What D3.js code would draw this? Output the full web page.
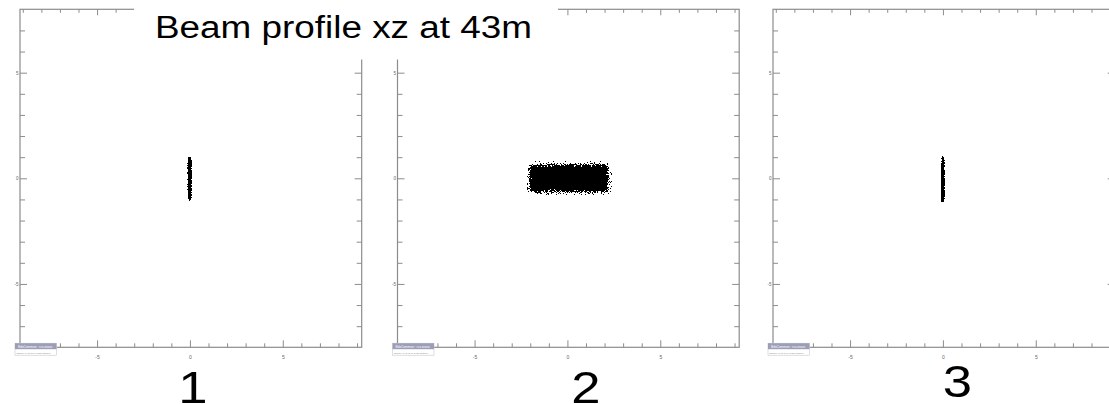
<!DOCTYPE html>
<html>
<head>
<meta charset="utf-8">
<script src="https://cdn.jsdelivr.net/npm/d3@7"></script>
<style>
  html, body { margin: 0; padding: 0; background: #fff; }
  svg { display: block; font-family: "Liberation Sans", Arial, sans-serif; }
</style>
</head>
<body>
<svg id="chart" width="1109" height="404"></svg>
<script>
// ---- data -------------------------------------------------------------
const panelLabels = ["1", "2", "3"];
const titleText = "Beam profile xz at 43m";
const xDomain = [-9.15, 9.25];
const yDomain = [-8, 8];
const majorTicks = [-5, 0, 5];
const minorTicksX = [-9, -8, -7, -6, -4, -3, -2, -1, 1, 2, 3, 4, 6, 7, 8, 9];
const minorTicksY = [-7, -6, -4, -3, -2, -1, 1, 2, 3, 4, 6, 7];

// beam outline per panel: rows of [z, xMin, xMax]
const beamRows1 = [[1.0, -0.05, 0.05], [0.85, -0.11, 0.09], [-0.9, -0.11, 0.09], [-1.05, -0.06, 0.05]];
const beamRows2 = [[0.66, -1.95, 2.12], [0.56, -2.06, 2.22], [-0.55, -2.06, 2.24], [-0.66, -1.95, 2.08]];
const beamRows3 = [[1.07, -0.03, 0.03], [0.8, -0.08, 0.07], [0.0, -0.1, 0.09], [-0.95, -0.1, 0.09], [-1.12, -0.06, 0.05]];
const beamDensity = [1.0, 0.68, 1.0];
const beamSpread = [0.025, 0.1, 0.025];

const legendHead = "BdsCommon : rcs.erase";
const legendBody = "sampler xz at 43 m, beam particles";

// ---- layout -----------------------------------------------------------
const panelLeft = [20, 397.5, 773];
const plotW = 341.7, plotTop = 9.3, plotBottom = 347.3;
const axisColor = "#8c8c8c";
const labelColor = "#666";

const svg = d3.select("#chart");
const defs = svg.append("defs");
const beams = [beamRows1, beamRows2, beamRows3];

panelLabels.forEach((label, i) => {
  const left = panelLeft[i];
  const x = d3.scaleLinear().domain(xDomain).range([left, left + plotW]);
  const y = d3.scaleLinear().domain(yDomain).range([plotBottom, plotTop]);
  const g = svg.append("g").attr("class", "panel");

  // grain filter: blurred beam footprint thresholded against noise
  const blur = (x(beamSpread[i]) - x(0));
  const f = defs.append("filter")
    .attr("id", "grain" + i)
    .attr("filterUnits", "userSpaceOnUse")
    .attr("x", left).attr("y", plotTop).attr("width", plotW).attr("height", plotBottom - plotTop);
  f.append("feGaussianBlur").attr("in", "SourceAlpha").attr("stdDeviation", blur).attr("result", "b0");
  const bt = f.append("feComponentTransfer").attr("in", "b0").attr("result", "b");
  bt.append("feFuncA").attr("type", "linear").attr("slope", 1.45).attr("intercept", 0);
  f.append("feTurbulence").attr("type", "fractalNoise").attr("baseFrequency", 1.3)
    .attr("numOctaves", 1).attr("seed", 5 + i).attr("result", "t");
  f.append("feColorMatrix").attr("in", "t").attr("type", "matrix")
    .attr("values", "0 0 0 0 0  0 0 0 0 0  0 0 0 0 0  3.0 0 0 0 -1.0").attr("result", "n0");
  // keep the noise strictly inside (0,1) so empty areas stay blank
  const nt = f.append("feComponentTransfer").attr("in", "n0").attr("result", "n");
  nt.append("feFuncA").attr("type", "linear").attr("slope", 0.94).attr("intercept", 0.03);
  f.append("feComposite").attr("in", "b").attr("in2", "n").attr("operator", "arithmetic")
    .attr("k1", 0).attr("k2", 1).attr("k3", -1).attr("k4", 0.5).attr("result", "d");
  const ct = f.append("feComponentTransfer").attr("in", "d").attr("result", "m");
  ct.append("feFuncA").attr("type", "discrete").attr("tableValues", "0 1");
  f.append("feFlood").attr("flood-color", "#000").attr("result", "ink");
  f.append("feComposite").attr("in", "ink").attr("in2", "m").attr("operator", "in");

  // beam particles
  const area = d3.area()
    .y(d => y(d[0]))
    .x0(d => x(d[1]))
    .x1(d => x(d[2]));
  g.append("path")
    .datum(beams[i])
    .attr("d", area)
    .attr("fill", "#000")
    .attr("fill-opacity", beamDensity[i])
    .attr("filter", `url(#grain${i})`);

  // frame
  g.append("rect")
    .attr("x", left).attr("y", plotTop)
    .attr("width", plotW).attr("height", plotBottom - plotTop)
    .attr("fill", "none").attr("stroke", axisColor).attr("stroke-width", 1.2);

  const styleAxis = sel => {
    sel.select(".domain").remove();
    sel.selectAll("line").attr("stroke", axisColor).attr("stroke-width", 1);
    sel.selectAll("text").attr("fill", labelColor).attr("font-family", "Liberation Sans, Arial, sans-serif");
  };

  // bottom axis
  g.append("g").attr("transform", `translate(0,${plotBottom})`)
    .call(d3.axisBottom(x).tickValues(minorTicksX).tickSize(-4).tickFormat(""))
    .call(styleAxis);
  g.append("g").attr("transform", `translate(0,${plotBottom})`)
    .call(d3.axisBottom(x).tickValues(majorTicks).tickSize(-7).tickPadding(8).tickFormat(d => String(d)))
    .call(styleAxis)
    .selectAll("text").attr("font-size", 5);

  // top axis
  g.append("g").attr("transform", `translate(0,${plotTop})`)
    .call(d3.axisTop(x).tickValues(minorTicksX).tickSize(-3.5).tickFormat(""))
    .call(styleAxis);
  g.append("g").attr("transform", `translate(0,${plotTop})`)
    .call(d3.axisTop(x).tickValues(majorTicks).tickSize(-6).tickFormat(""))
    .call(styleAxis);

  // left axis
  g.append("g").attr("transform", `translate(${left},0)`)
    .call(d3.axisLeft(y).tickValues(minorTicksY).tickSize(-5).tickFormat(""))
    .call(styleAxis);
  g.append("g").attr("transform", `translate(${left},0)`)
    .call(d3.axisLeft(y).tickValues(majorTicks).tickSize(-7).tickPadding(1.5).tickFormat(d => String(d)))
    .call(styleAxis)
    .selectAll("text").attr("font-size", 4.5);

  // right axis
  g.append("g").attr("transform", `translate(${left + plotW},0)`)
    .call(d3.axisRight(y).tickValues(minorTicksY).tickSize(-5).tickFormat(""))
    .call(styleAxis);
  g.append("g").attr("transform", `translate(${left + plotW},0)`)
    .call(d3.axisRight(y).tickValues(majorTicks).tickSize(-7).tickFormat(""))
    .call(styleAxis);

  // small info box in the lower-left corner
  const bx = left - 5, by = 343.2;
  g.append("rect").attr("x", bx).attr("y", by).attr("width", 41.5).attr("height", 12)
    .attr("fill", "#fff").attr("stroke", "#c8c8d0").attr("stroke-width", 0.6);
  g.append("rect").attr("x", bx).attr("y", by).attr("width", 41.5).attr("height", 6)
    .attr("fill", "#9c9db6");
  g.append("text").attr("x", bx + 3).attr("y", by + 4.3).attr("font-size", 3.2)
    .attr("fill", "#fff").text(legendHead);
  g.append("text").attr("x", bx + 1.5).attr("y", by + 10.3).attr("font-size", 2.2)
    .attr("fill", "#888").text(legendBody);

  // panel number
  const numX = [193, 585.8, 957.5][i];
  const numY = [402.5, 402.5, 396.5][i];
  g.append("text")
    .attr("transform", `translate(${numX},${numY}) scale(1.17,1)`)
    .attr("text-anchor", "middle")
    .attr("font-size", 45)
    .attr("fill", "#000")
    .text(label);
});

// title over a white backing
svg.append("rect").attr("x", 134).attr("y", 0).attr("width", 424).attr("height", 59.5).attr("fill", "#fff");
svg.append("text")
  .attr("x", 155).attr("y", 37.5)
  .attr("font-size", 31)
  .attr("textLength", 377).attr("lengthAdjust", "spacingAndGlyphs")
  .attr("fill", "#000")
  .text(titleText);
</script>
</body>
</html>
